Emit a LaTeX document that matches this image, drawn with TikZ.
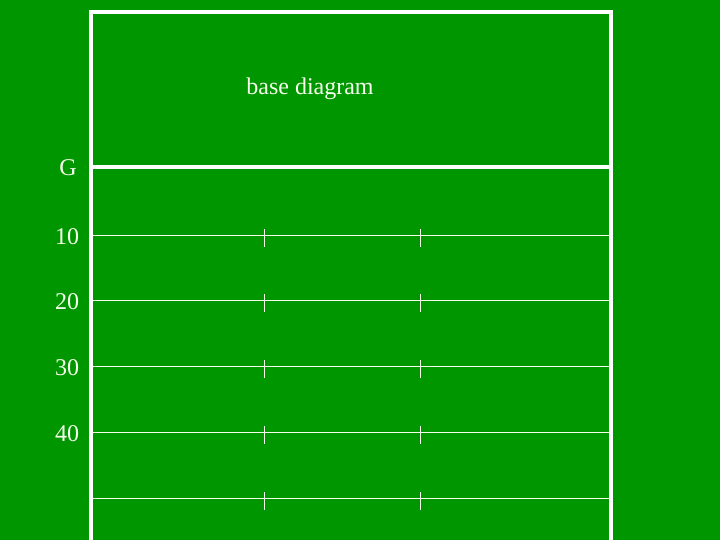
\documentclass[tikz,border=0pt]{standalone}
\usepackage{fontspec}
\setmainfont{Liberation Serif}
\definecolor{field}{RGB}{0,150,0}
\definecolor{chalk}{RGB}{245,255,235}
\begin{document}
\begin{tikzpicture}[x=1pt,y=-1pt,
  frame/.style={draw=white,line width=4pt,line join=miter},
  yardline/.style={draw=chalk,line width=1pt},
  hashmark/.style={draw=chalk,line width=1pt},
  lab/.style={text=chalk,inner sep=0pt,font=\fontsize{24}{28}\selectfont}]
\fill[field] (0,0) rectangle (720,540);
\useasboundingbox (0,0) rectangle (720,540);
% outer frame
\draw[frame] (91,540) -- (91,12) -- (611,12) -- (611,540);
\draw[frame,line width=3.5pt] (91,167) -- (611,167);
% title
\node[lab] (title) at (310,88.5) {base diagram};
\node[lab] (g) at (68,168) {G};
% yard lines
\foreach \y/\t/\n in {235/10/a,300/20/b,366/30/c,432/40/d,498//e}{
  \draw[yardline] (93,\y) -- (609,\y);
  \draw[hashmark] (264,\y-6) -- (264,\y+12);
  \draw[hashmark] (420,\y-6) -- (420,\y+12);
  \node[lab] (lab\n) at (67,\y+2) {\t};
}
\end{tikzpicture}
\end{document}
